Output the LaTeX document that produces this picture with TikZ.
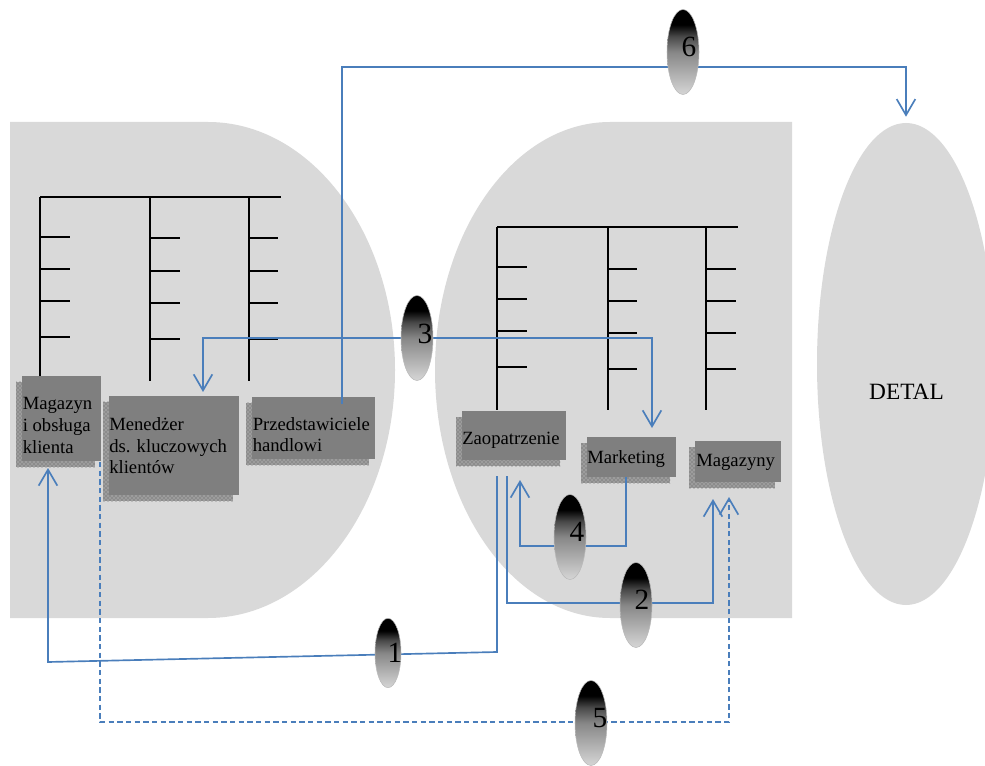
\documentclass[tikz,border=0pt]{standalone}
\usepackage{fontspec}
\setmainfont{Liberation Serif}
\usetikzlibrary{arrows.meta,shapes.geometric,patterns,calc}
\definecolor{bggray}{HTML}{D9D9D9}
\definecolor{boxgray}{HTML}{7F7F7F}
\definecolor{shgray}{HTML}{9C9C9C}
\definecolor{shdot}{HTML}{5A5A5A}
\definecolor{conblue}{HTML}{4A7EBB}
\definecolor{ebot}{HTML}{D6D6D6}
\definecolor{emid}{HTML}{878787}
\pgfdeclareverticalshading{ovalshade}{100bp}{color(0bp)=(ebot); color(25bp)=(ebot); color(50bp)=(emid); color(59bp)=(emid!55!black); color(66bp)=(black); color(100bp)=(black)}
\newcommand{\orgbox}[5]{%
  \fill[shadowst] (#2-6,#3+6) rectangle (#4-6,#5+6);
  \node[boxst, minimum width={(#4-#2)*0.75pt}, minimum height={(#5-#3)*0.75pt}] (#1) at (#2,#3) {};
}
\begin{document}
\begin{tikzpicture}[x=0.75pt,y=-0.75pt,
  orgline/.style={line width=1.5pt, black},
  conn/.style={draw=conblue, line width=1.25pt},
  dashconn/.style={dash pattern=on 4pt off 2.5pt},
  >={Straight Barb[length=12pt,width=14pt]},
  shadowst/.style={fill=shgray, postaction={pattern=crosshatch dots, pattern color=shdot}},
  boxst/.style={fill=boxgray, inner sep=0pt, outer sep=0pt, anchor=north west},
  boxtxt/.style={inner sep=0pt, anchor=north west, align=left, font=\fontsize{14pt}{16.2pt}\selectfont},
  oval/.style={ellipse, shading=ovalshade, draw=gray!55, line width=0.4pt, inner sep=0pt, minimum width=24pt, minimum height=63.75pt},
  num/.style={inner sep=0pt, font=\fontsize{22pt}{24pt}\selectfont}]
\useasboundingbox (0,0) rectangle (985,766);
\clip (0,0) rectangle (985,766);

% background shapes
\fill[bggray] (10,122) -- (208,122) arc[start angle=-90,end angle=90,x radius=187,y radius=248] -- (10,618) -- cycle;
\fill[bggray] (792,122) -- (610,122) arc[start angle=-90,end angle=-270,x radius=175,y radius=248] -- (792,618) -- cycle;
\node[ellipse, fill=bggray, minimum width=133.5pt, minimum height=361.5pt, inner sep=0pt] (detal) at (906,364) {};
\node[inner sep=0pt, anchor=base, font=\fontsize{17.5pt}{20pt}\selectfont] (detaltxt) at (906.5,400) {DETAL};

% left org chart
\draw[orgline] (40,197) -- (281,197);
\draw[orgline] (40,197) -- (40,376);
\draw[orgline] (150,197) -- (150,381);
\draw[orgline] (249,197) -- (249,381);
\foreach \yy in {237,269,301,337} {\draw[orgline] (40,\yy) -- (70,\yy);}
\foreach \yy in {238,271,303,339} {\draw[orgline] (150,\yy) -- (180,\yy); \draw[orgline] (249,\yy) -- (278,\yy);}

% middle org chart
\draw[orgline] (497,227) -- (738,227);
\draw[orgline] (497,227) -- (497,410);
\draw[orgline] (608,227) -- (608,410);
\draw[orgline] (706,227) -- (706,410);
\foreach \yy in {267,299,331,367} {\draw[orgline] (497,\yy) -- (527,\yy);}
\foreach \yy in {269,301,333,369} {\draw[orgline] (608,\yy) -- (637,\yy); \draw[orgline] (706,\yy) -- (736,\yy);}

% boxes
\orgbox{mag}{22}{376}{101}{461}
\orgbox{mened}{109}{396}{239}{495}
\orgbox{przed}{252}{397}{375}{459}
\orgbox{zaop}{462}{411}{566}{460}
\orgbox{market}{587}{437}{676}{477}
\orgbox{magaz}{695}{441}{781}{482}
\node[boxtxt] (tmag) at (22.5,397.5) {Magazyn\\i obsługa\\klienta};
\node[boxtxt] (tmened) at (109,417.5) {Menedżer\\ds. kluczowych\\klientów};
\node[boxtxt] (tprzed) at (252.5,417) {Przedstawiciele\\handlowi};
\node[boxtxt] (tzaop) at (462,432) {Zaopatrzenie};
\node[boxtxt] (tmarket) at (587,450) {Marketing};
\node[boxtxt] (tmagaz) at (696,454) {Magazyny};

% connectors
\draw[conn,->] ([shift={(28.5,7)}]przed.north) -- ++(0,-337) -| ([shift={(0,-6)}]detal.north);
\draw[conn,<->] ([shift={(29,-4)}]mened.north) -- ++(0,-54) -| ([shift={(20.5,-9)}]market.north);
\draw[conn,->] ([shift={(-17,16)}]zaop.south) -- ++(0,176) -- ++(-449,10) -- ([shift={(-13.5,7)}]mag.south);
\draw[conn,->] ([shift={(-7,16)}]zaop.south) -- ++(0,127) -| ([shift={(-25,17)}]magaz.south);
\draw[conn,->] ([shift={(-5.5,0)}]market.south) -- ++(0,69) -| ([shift={(6,20)}]zaop.south);
\draw[conn,dashconn,->] ([shift={(-1,1)}]mag.south east) -- ++(0,260) -| ([shift={(-9,15)}]magaz.south);

% numbered ovals
\node[oval] (o6) at (683,52) {};
\node[num] (n6) at (689,47) {6};
\node[oval] (o3) at (417,338) {};
\node[num] (n3) at (425,334) {3};
\node[oval] (o4) at (570,537) {};
\node[num] (n4) at (577,532) {4};
\node[oval] (o2) at (636,605) {};
\node[num] (n2) at (642,600) {2};
\node[oval, minimum width=19.5pt, minimum height=52pt] (o1) at (388,653) {};
\node[num] (n1) at (395,653) {1};
\node[oval] (o5) at (591,723) {};
\node[num] (n5) at (600,718) {5};
\end{tikzpicture}
\end{document}
